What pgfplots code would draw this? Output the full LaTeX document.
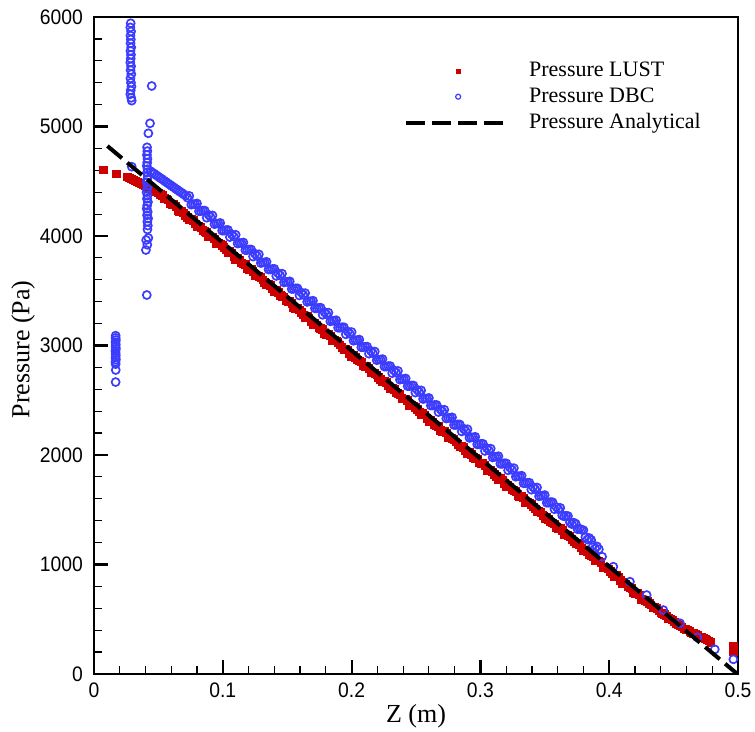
\documentclass[border=0pt]{standalone}
\usepackage{fontspec}
\setmainfont{Liberation Serif}
\newfontfamily\ticksans[FakeStretch=0.92]{Liberation Sans}
\usepackage{pgfplots}
\pgfplotsset{compat=1.18}

\definecolor{lustred}{RGB}{204,0,0}
\definecolor{dbcblue}{RGB}{60,60,255}

\begin{document}
\begin{tikzpicture}
\begin{axis}[
  at={(0pt,0pt)}, anchor=south west,
  scale only axis, width=322pt, height=328.5pt,
  xmin=0, xmax=0.5, ymin=0, ymax=6000,
  clip marker paths=true,
  xtick={0,0.1,0.2,0.3,0.4,0.5},
  ytick={0,1000,2000,3000,4000,5000,6000},
  minor tick num=4,
  tick pos=left, tick align=inside,
  major tick length=7pt, minor tick length=4pt,
  major tick style={line width=1.1pt, black},
  minor tick style={line width=0.6pt, black},
  axis line style={line width=0.7pt},
  /pgf/number format/assume math mode=true,
  /pgf/number format/1000 sep={},
  ticklabel style={font=\ticksans\fontsize{10.5}{12}\selectfont},
  yticklabel style={xshift=-2pt},
  xticklabel style={yshift=-1pt},
  label style={font=\fontsize{13}{15}\selectfont},
  xlabel={Z (m)},
  ylabel={Pressure (Pa)},
  xlabel style={at={(axis description cs:0.5,-0.0639)}, anchor=center},
  ylabel style={at={(axis description cs:-0.1102,0.494)}, anchor=center},
  legend cell align=left,
  legend style={draw=none, fill=none, inner sep=0pt,
    at={(axis description cs:0.481,0.9346)}, anchor=north west,
    font=\fontsize{11}{13}\selectfont,
    nodes={inner sep=1pt}, row sep=2pt, column sep=11pt},
]

% LUST solution
\addplot[only marks, mark=square*, mark size=1.9pt, color=lustred,
  legend image code/.code={\draw[mark size=1pt, only marks] plot coordinates {(26pt,0pt)};}]
coordinates {
(0.0072,4603) (0.0176,4566)
(0.026,4539) (0.029,4521) (0.032,4503) (0.035,4485) (0.038,4467) (0.041,4449) (0.044,4431) (0.047,4414) (0.050,4392)
(0.053,4373) (0.056,4338) (0.059,4293) (0.062,4289) (0.065,4229) (0.068,4225) (0.071,4190) (0.074,4146) (0.077,4141) (0.080,4082)
(0.083,4077) (0.086,4042) (0.089,3998) (0.092,3993) (0.095,3934) (0.098,3929) (0.101,3894) (0.104,3850) (0.107,3845) (0.110,3786)
(0.113,3781) (0.116,3746) (0.119,3702) (0.122,3697) (0.125,3638) (0.128,3633) (0.131,3598) (0.134,3554) (0.137,3549) (0.140,3490)
(0.143,3485) (0.146,3451) (0.149,3406) (0.152,3401) (0.155,3342) (0.158,3337) (0.161,3303) (0.164,3258) (0.167,3253) (0.170,3194)
(0.173,3189) (0.176,3155) (0.179,3110) (0.182,3105) (0.185,3046) (0.188,3041) (0.191,3007) (0.194,2962) (0.197,2958) (0.200,2898)
(0.203,2893) (0.206,2859) (0.209,2814) (0.212,2810) (0.215,2750) (0.218,2745) (0.221,2711) (0.224,2666) (0.227,2662) (0.230,2602)
(0.233,2597) (0.236,2563) (0.239,2518) (0.242,2514) (0.245,2454) (0.248,2450) (0.251,2415) (0.254,2370) (0.257,2366) (0.260,2306)
(0.263,2302) (0.266,2267) (0.269,2222) (0.272,2218) (0.275,2158) (0.278,2154) (0.281,2119) (0.284,2074) (0.287,2070) (0.290,2010)
(0.293,2006) (0.296,1971) (0.299,1927) (0.302,1922) (0.305,1862) (0.308,1858) (0.311,1823) (0.314,1779) (0.317,1774) (0.320,1714)
(0.323,1710) (0.326,1675) (0.329,1631) (0.332,1626) (0.335,1567) (0.338,1562) (0.341,1527) (0.344,1483) (0.347,1478) (0.350,1419)
(0.353,1414) (0.356,1379) (0.359,1335) (0.362,1330) (0.365,1271) (0.368,1266) (0.371,1231) (0.374,1187) (0.377,1182) (0.380,1123)
(0.383,1118) (0.386,1084) (0.389,1039) (0.392,1034) (0.395,975) (0.398,970) (0.401,936) (0.404,891) (0.407,886) (0.410,827)
(0.413,822) (0.416,788) (0.419,743) (0.422,739) (0.425,679) (0.428,674) (0.431,645) (0.434,610) (0.437,601) (0.440,558)
(0.443,546) (0.446,509) (0.449,495) (0.452,456) (0.455,443) (0.458,413) (0.461,404) (0.464,377) (0.467,365) (0.470,340)
(0.473,330) (0.476,311) (0.479,291) (0.4964,250) (0.4966,205)
(0.0275,4530) (0.0305,4512) (0.0335,4494) (0.0365,4476) (0.0395,4459) (0.0425,4440) (0.0455,4422) (0.0485,4403) (0.0515,4379)
(0.0545,4346) (0.0575,4330) (0.0605,4286) (0.0635,4271) (0.0665,4227) (0.0695,4212) (0.0725,4168) (0.0755,4153) (0.0785,4109)
(0.0815,4093) (0.0845,4050) (0.0875,4034) (0.0905,3991) (0.0935,3975) (0.0965,3931) (0.0995,3916) (0.1025,3872) (0.1055,3857)
(0.1085,3813) (0.1115,3798) (0.1145,3754) (0.1175,3738) (0.1205,3695) (0.1235,3679) (0.1265,3636) (0.1295,3620) (0.1325,3576)
(0.1355,3561) (0.1385,3517) (0.1415,3502) (0.1445,3458) (0.1475,3443) (0.1505,3399) (0.1535,3383) (0.1565,3340) (0.1595,3324)
(0.1625,3281) (0.1655,3265) (0.1685,3222) (0.1715,3206) (0.1745,3162) (0.1775,3147) (0.1805,3103) (0.1835,3088) (0.1865,3044)
(0.1895,3028) (0.1925,2985) (0.1955,2969) (0.1985,2926) (0.2015,2910) (0.2045,2867) (0.2075,2851) (0.2105,2807) (0.2135,2792)
(0.2165,2748) (0.2195,2733) (0.2225,2689) (0.2255,2674) (0.2285,2630) (0.2315,2614) (0.2345,2571) (0.2375,2555) (0.2405,2512)
(0.2435,2496) (0.2465,2452) (0.2495,2437) (0.2525,2393) (0.2555,2378) (0.2585,2334) (0.2615,2319) (0.2645,2275) (0.2675,2259)
(0.2705,2216) (0.2735,2200) (0.2765,2157) (0.2795,2141) (0.2825,2097) (0.2855,2082) (0.2885,2038) (0.2915,2023) (0.2945,1979)
(0.2975,1964) (0.3005,1920) (0.3035,1904) (0.3065,1861) (0.3095,1845) (0.3125,1802) (0.3155,1786) (0.3185,1743) (0.3215,1727)
(0.3245,1683) (0.3275,1668) (0.3305,1624) (0.3335,1609) (0.3365,1565) (0.3395,1550) (0.3425,1506) (0.3455,1490) (0.3485,1447)
(0.3515,1431) (0.3545,1388) (0.3575,1372) (0.3605,1328) (0.3635,1313) (0.3665,1269) (0.3695,1254) (0.3725,1210) (0.3755,1195)
(0.3785,1151) (0.3815,1135) (0.3845,1092) (0.3875,1076) (0.3905,1033) (0.3935,1017) (0.3965,973) (0.3995,958) (0.4025,914)
(0.4055,899) (0.4085,855) (0.4115,840) (0.4145,796) (0.4175,780) (0.4205,737) (0.4235,721) (0.4265,678) (0.4295,662)
(0.4325,632) (0.4355,607) (0.4385,581) (0.4415,554) (0.4445,529) (0.4475,503) (0.4505,477) (0.4535,450) (0.4565,429)
(0.4595,409) (0.4625,391) (0.4655,371) (0.4685,353) (0.4715,336) (0.4745,321) (0.4775,302)
};
\addlegendentry{Pressure LUST}

% DBC solution
\addplot[only marks, mark=o, mark size=2pt, color=dbcblue, mark options={line width=0.85pt},
  legend image code/.code={\draw[mark size=1.25pt, only marks, mark options={line width=0.6pt}] plot coordinates {(26pt,0pt)};}]
coordinates {
(0.0285,5943) (0.0282,5905) (0.0288,5868) (0.0283,5830) (0.0286,5795) (0.0284,5760) (0.0289,5722) (0.0283,5690)
(0.0287,5655) (0.0285,5620) (0.0282,5585) (0.0288,5550) (0.0284,5515) (0.0290,5478) (0.0283,5440) (0.0287,5400)
(0.0291,5365) (0.0285,5330) (0.0282,5295) (0.0289,5262) (0.0293,5236)
(0.0448,5370) (0.0435,5029) (0.0422,4938)
(0.0412,4810) (0.0414,4775) (0.0411,4740) (0.0415,4705) (0.0413,4670) (0.0410,4640) (0.0416,4610) (0.0412,4580)
(0.0418,4550) (0.0414,4520) (0.0409,4490) (0.0420,4460) (0.0413,4430) (0.0408,4400) (0.0416,4370) (0.0411,4340)
(0.0419,4310) (0.0413,4280) (0.0409,4250) (0.0417,4220) (0.0412,4190) (0.0420,4160) (0.0414,4130) (0.0418,4095)
(0.0415,4060)
(0.0293,4633)
(0.0405,3963) (0.0422,3982) (0.0414,3920) (0.0403,3872) (0.0410,3461)
(0.0168,3090) (0.0168,3070) (0.0170,3050) (0.0167,3030) (0.0169,3010) (0.0168,2990) (0.0170,2970) (0.0167,2950)
(0.0168,2930) (0.0169,2910) (0.0168,2890) (0.0170,2870) (0.0167,2850) (0.0168,2830) (0.0169,2776) (0.0168,2666)
(0.044,4591) (0.047,4567) (0.050,4542) (0.053,4518) (0.056,4493) (0.059,4468) (0.062,4444) (0.065,4419) (0.068,4395)
(0.071,4370) (0.074,4366) (0.077,4291) (0.080,4297) (0.083,4227) (0.086,4232) (0.089,4193) (0.092,4188) (0.095,4114)
(0.098,4119) (0.101,4049) (0.104,4055) (0.107,4015) (0.110,4011) (0.113,3936) (0.116,3941) (0.119,3872) (0.122,3877)
(0.125,3838) (0.128,3833) (0.131,3758) (0.134,3764) (0.137,3694) (0.140,3700) (0.143,3660) (0.146,3656) (0.149,3581)
(0.152,3586) (0.155,3517) (0.158,3522) (0.161,3483) (0.164,3478) (0.167,3403) (0.170,3409) (0.173,3339) (0.176,3345)
(0.179,3305) (0.182,3300) (0.185,3226) (0.188,3231) (0.191,3162) (0.194,3167) (0.197,3128) (0.200,3123) (0.203,3048)
(0.206,3054) (0.209,2984) (0.212,2990) (0.215,2950) (0.218,2945) (0.221,2871) (0.224,2876) (0.227,2807) (0.230,2812)
(0.233,2772) (0.236,2768) (0.239,2693) (0.242,2699) (0.245,2629) (0.248,2635) (0.251,2595) (0.254,2590) (0.257,2516)
(0.260,2521) (0.263,2452) (0.266,2457) (0.269,2417) (0.272,2413) (0.275,2338) (0.278,2344) (0.281,2274) (0.284,2279)
(0.287,2240) (0.290,2235) (0.293,2161) (0.296,2166) (0.299,2097) (0.302,2102) (0.305,2062) (0.308,2058) (0.311,1983)
(0.314,1989) (0.317,1919) (0.320,1924) (0.323,1885) (0.326,1880) (0.329,1806) (0.332,1811) (0.335,1742) (0.338,1747)
(0.341,1707) (0.344,1703) (0.347,1628) (0.350,1634) (0.353,1564) (0.356,1569) (0.359,1525) (0.362,1517) (0.365,1440)
(0.368,1442) (0.371,1369) (0.374,1372) (0.377,1327) (0.380,1313) (0.383,1228) (0.386,1224) (0.389,1144) (0.392,1139)
(0.0455,4578) (0.0485,4554) (0.0515,4529) (0.0545,4505) (0.0575,4480) (0.0605,4455) (0.0635,4431) (0.0665,4406) (0.0695,4382)
(0.0725,4350) (0.0755,4286) (0.0785,4291) (0.0815,4226) (0.0845,4232) (0.0875,4167) (0.0905,4173) (0.0935,4108) (0.0965,4114)
(0.0995,4049) (0.1025,4054) (0.1055,3990) (0.1085,3995) (0.1115,3931) (0.1145,3936) (0.1175,3871) (0.1205,3877) (0.1235,3812)
(0.1265,3818) (0.1295,3753) (0.1325,3759) (0.1355,3694) (0.1385,3699) (0.1415,3635) (0.1445,3640) (0.1475,3576) (0.1505,3581)
(0.1535,3516) (0.1565,3522) (0.1595,3457) (0.1625,3463) (0.1655,3398) (0.1685,3404) (0.1715,3339) (0.1745,3344) (0.1775,3280)
(0.1805,3285) (0.1835,3221) (0.1865,3226) (0.1895,3162) (0.1925,3167) (0.1955,3102) (0.1985,3108) (0.2015,3043) (0.2045,3049)
(0.2075,2984) (0.2105,2989) (0.2135,2925) (0.2165,2930) (0.2195,2866) (0.2225,2871) (0.2255,2807) (0.2285,2812) (0.2315,2747)
(0.2345,2753) (0.2375,2688) (0.2405,2694) (0.2435,2629) (0.2465,2635) (0.2495,2570) (0.2525,2575) (0.2555,2511) (0.2585,2516)
(0.2615,2452) (0.2645,2457) (0.2675,2392) (0.2705,2398) (0.2735,2333) (0.2765,2339) (0.2795,2274) (0.2825,2280) (0.2855,2215)
(0.2885,2220) (0.2915,2156) (0.2945,2161) (0.2975,2097) (0.3005,2102) (0.3035,2037) (0.3065,2043) (0.3095,1978) (0.3125,1984)
(0.3155,1919) (0.3185,1925) (0.3215,1860) (0.3245,1865) (0.3275,1801) (0.3305,1806) (0.3335,1742) (0.3365,1747) (0.3395,1683)
(0.3425,1688) (0.3455,1623) (0.3485,1629) (0.3515,1564) (0.3545,1570) (0.3575,1505) (0.3605,1505) (0.3635,1448) (0.3665,1445)
(0.3695,1385) (0.3725,1382) (0.3755,1322) (0.3785,1318) (0.3815,1250) (0.3845,1242) (0.3875,1175) (0.3905,1165)
(0.3945,1071) (0.4032,980) (0.4161,843) (0.4291,721) (0.442,584) (0.455,463) (0.4684,335) (0.482,225) (0.4964,134)
};
\addlegendentry{Pressure DBC}

% analytical profile
\addplot[black, line width=2pt, dash pattern=on 9.5pt off 3.5pt,
  legend image code/.code={\draw (0pt,0pt) -- (48.5pt,0pt);}]
coordinates {(0.0104,4822) (0.1,3939) (0.2,2953) (0.3,1967) (0.4,981) (0.4995,0)};
\addlegendentry{Pressure Analytical}

\end{axis}
\pgfresetboundingbox
\path[use as bounding box] (-47pt,-29pt) rectangle (330.5pt,337pt);
\end{tikzpicture}
\end{document}
